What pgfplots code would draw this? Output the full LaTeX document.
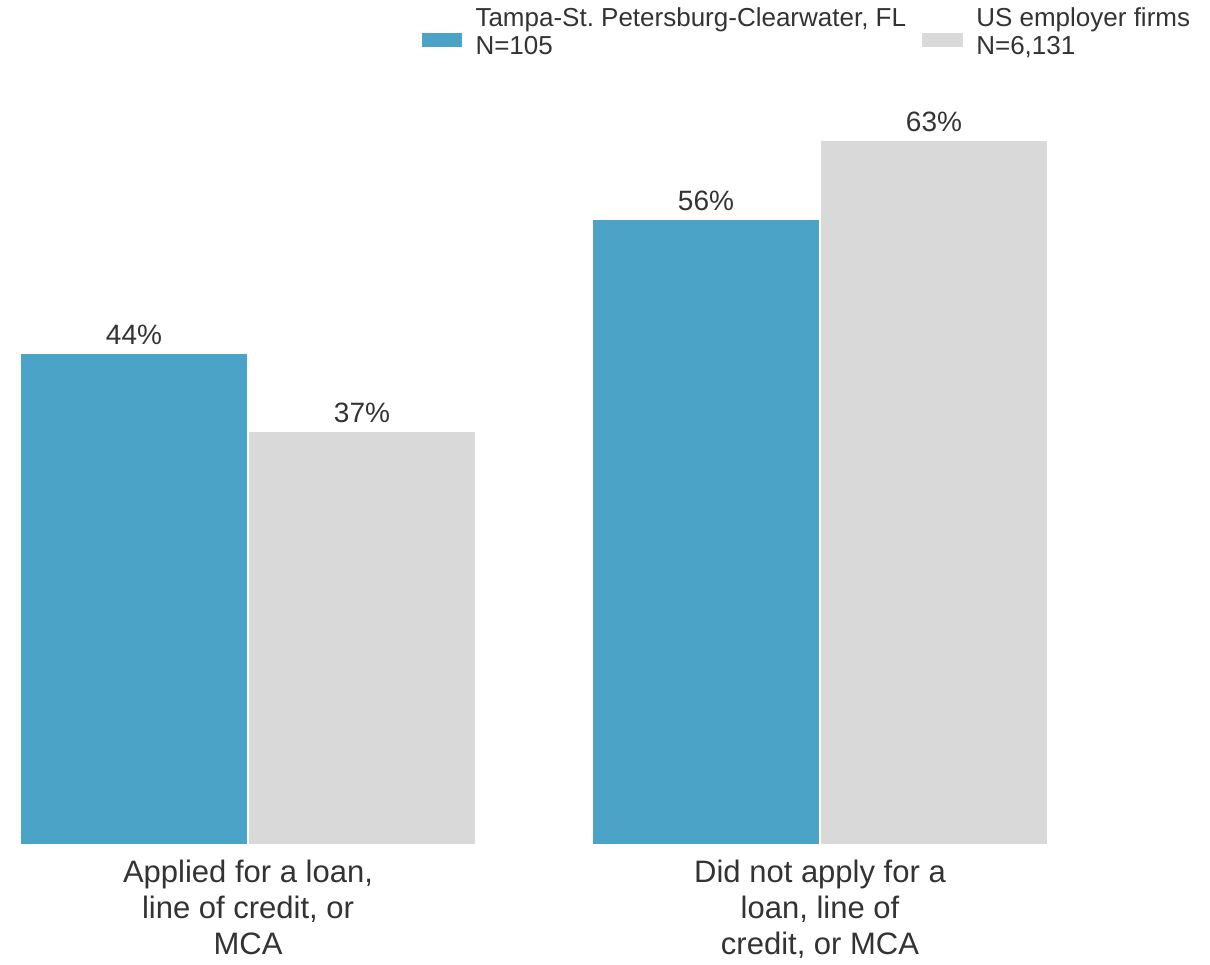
\documentclass[border=0pt]{standalone}
\usepackage{pgfplots}
\pgfplotsset{compat=1.18}
\usepackage{fontspec}
\setmainfont{Liberation Sans}
\definecolor{tblue}{HTML}{4BA3C7}
\definecolor{tgray}{HTML}{D9D9D9}
\definecolor{txt}{HTML}{333333}
\begin{document}
\begin{tikzpicture}
\begin{axis}[
  scale only axis,
  width=514pt, height=391.3pt,
  xmin=-0.3986, xmax=1.3986,
  ymin=0, ymax=70,
  /pgf/number format/assume math mode=true,
  axis line style={draw=none},
  tick style={draw=none},
  ytick=\empty,
  xtick={0,1},
  xticklabels={{Applied for a loan,\\line of credit, or\\MCA},{Did not apply for a\\loan, line of\\credit, or MCA}},
  xticklabel style={align=center, font=\fontsize{15.5}{18}\selectfont, text=txt, inner sep=3pt},
  ybar,
  bar width=0.3986,
  nodes near coords={\pgfmathprintnumber{\pgfplotspointmeta}\%},
  every node near coord/.append style={font=\fontsize{14}{16}\selectfont, text=txt, inner sep=4pt},
  legend columns=2,
  legend cell align=left,
  legend style={draw=none, fill=none, at={(axis description cs:0.389,1.075)}, anchor=north west,
    inner sep=0pt,
    nodes={align=left, font=\fontsize{13}{14}\selectfont, text=txt, inner xsep=6pt, inner ysep=2pt},
    /tikz/every even column/.append style={column sep=1.5pt}},
  legend image code/.code={\fill[#1] (0pt,-7.25pt) rectangle (21pt,0.25pt);},
  clip=false,
]
\addplot[fill=tblue, draw=white, line width=0.6pt, bar shift=-0.1993] coordinates {(0,44) (1,56)};
\addplot[fill=tgray, draw=white, line width=0.6pt, bar shift=0.1993] coordinates {(0,37) (1,63)};
\legend{{Tampa-St.\ Petersburg-Clearwater, FL\\N=105},{US employer firms\\N=6,131}}
\end{axis}
\path (current axis.south west) ++(-10pt,-53.5pt) rectangle ++(605pt,476pt);
\end{tikzpicture}
\end{document}
